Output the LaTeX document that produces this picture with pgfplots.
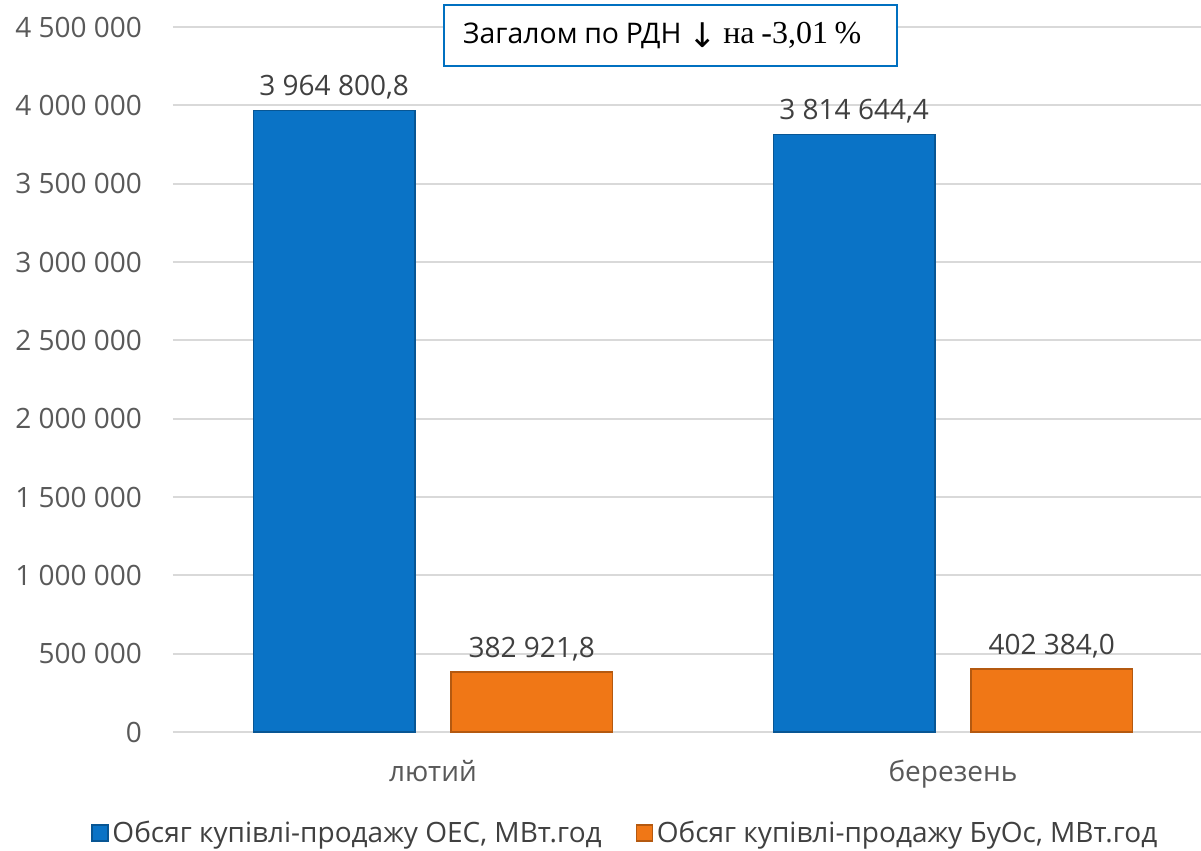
\documentclass[border=0pt]{standalone}
\usepackage{fontspec}
\setmainfont{Open Sans}
\newfontfamily\seriffont{Liberation Serif}
\newfontfamily\dejavu{DejaVu Sans}
\usepackage{pgfplots}
\pgfplotsset{compat=1.18}
\definecolor{oesblue}{HTML}{0A73C6}
\definecolor{buorange}{HTML}{F07716}
\definecolor{gridgray}{HTML}{D9D9D9}
\definecolor{ticktext}{HTML}{595959}
\definecolor{labeltext}{HTML}{404040}
\definecolor{boxblue}{HTML}{0070C0}
\begin{document}
\begin{tikzpicture}
\useasboundingbox (-86.5pt,-59.5pt) rectangle (514pt,366pt);
\begin{axis}[
  at={(0,0)}, anchor=south west,
  scale only axis, width=514pt, height=352.5pt,
  xmin=-0.5, xmax=1.477, ymin=0, ymax=4500000,
  scaled y ticks=false,
  ytick={0,500000,1000000,1500000,2000000,2500000,3000000,3500000,4000000,4500000},
  yticklabels={0,500 000,1 000 000,1 500 000,2 000 000,2 500 000,3 000 000,3 500 000,4 000 000,4 500 000},
  xtick={0,1}, xticklabels={лютий,березень},
  axis line style={draw=none},
  ymajorgrids, grid style={gridgray, line width=1pt},
  major tick length=0pt,
  tick label style={font=\fontsize{14}{16}\selectfont, text=ticktext},
  yticklabel style={anchor=east, xshift=-12pt},
  xticklabel style={anchor=base, yshift=-25pt},
  clip=false,
  legend columns=2,
  legend style={at={(0.441,-0.1433)}, anchor=center, draw=none, fill=none,
    font=\fontsize{14}{16}\selectfont, text=labeltext,
    /tikz/every even column/.append style={column sep=15pt}},
  legend image code/.code={\draw[#1,/tikz/.cd] (0pt,-4pt) rectangle (8pt,4pt);},
  nodes near coords style={font=\fontsize{14}{16}\selectfont, text=labeltext, yshift=2pt},
]
\addplot[ybar, bar width=0.311, bar shift=0, fill=oesblue, draw=oesblue!75!black, line width=0.6pt,
  nodes near coords, point meta=explicit symbolic]
  coordinates {(-0.19,3964800.8) [3 964 800,8] (0.81,3814644.4) [3 814 644,4]};
\addlegendentry{Обсяг купівлі-продажу ОЕС, МВт.год}
\addplot[ybar, bar width=0.311, bar shift=0, fill=buorange, draw=buorange!75!black, line width=0.6pt,
  nodes near coords, point meta=explicit symbolic]
  coordinates {(0.19,382921.8) [382 921,8] (1.19,402384.0) [402 384,0]};
\addlegendentry{Обсяг купівлі-продажу БуОс, МВт.год}
\end{axis}
\node[draw=boxblue, line width=1.2pt, fill=white, anchor=west,
  minimum height=30.5pt, text width=207.5pt, inner xsep=9.5pt, align=left]
  at (135pt,348.25pt)
  {\fontsize{14.2}{17}\selectfont Загалом по РДН {\dejavu\fontsize{17}{17}\selectfont\raisebox{-2pt}{↓}} {\seriffont\fontsize{16}{17}\selectfont на -3,01 \%}};
\end{tikzpicture}
\end{document}
